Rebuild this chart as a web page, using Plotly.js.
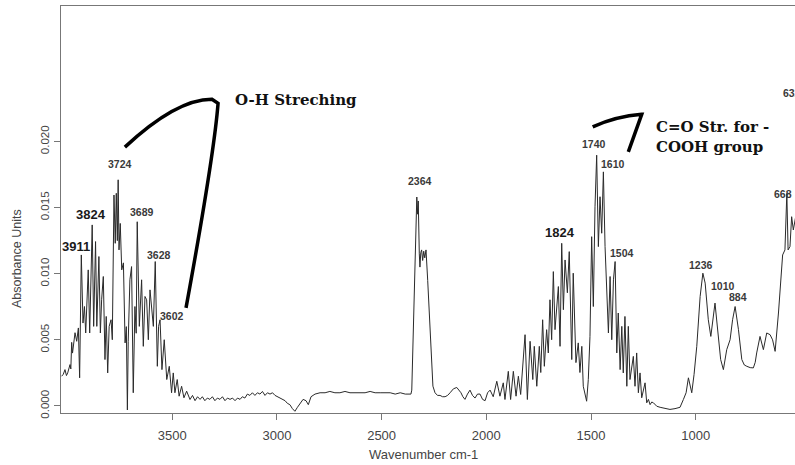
<!DOCTYPE html>
<html>
<head>
<meta charset="utf-8">
<script src="https://cdn.plot.ly/plotly-3.0.1.min.js"></script>
<style>html,body{margin:0;padding:0;background:#fff;}#chart{width:795px;height:465px;}</style>
</head>
<body>
<div id="chart"></div>
<script>
// Wavenumber (cm-1)
var wavenumber = [
4028,4020,4012,4005,3999,3993,3988,3984,3980,3976,3972,3964,3956,3948,3942,3934,3926,3919,3913,3905,
3901,3894,3888,3882,3875,3872,3866,3860,3850,3843,3837,3829,3821,3815,3808,3801,3792,3786,3778,3772,
3767,3762,3758,3754,3748,3741,3733,3725,3719,3714,3710,3702,3694,3686,3678,3672,3667,3657,3651,3646,
3638,3630,3622,3614,3606,3598,3590,3581,3571,3565,3558,3549,3538,3526,3514,3503,3495,3487,3476,3467,
3455,3444,3431,3415,3403,3391,3379,3367,3356,3344,3332,3320,3308,3296,3284,3272,3260,3248,3236,3224,
3212,3200,3188,3176,3165,3153,3141,3129,3117,3105,3093,3081,3069,3057,3045,3033,3021,3009,2997,2985,
2973,2961,2950,2938,2926,2914,2902,2890,2875,2861,2850,2837,2818,2794,2770,2747,2723,2699,2675,2651,
2627,2603,2579,2555,2531,2507,2483,2459,2435,2411,2387,2371,2360,2356,2345,2335,2332,2328,2325,2320,
2317,2313,2309,2304,2299,2294,2288,2280,2269,2260,2255,2245,2233,2221,2209,2197,2185,2173,2157,2141,
2131,2121,2112,2102,2090,2078,2066,2054,2042,2030,2018,2006,1994,1982,1967,1950,1935,1919,1911,1895,
1884,1871,1858,1847,1836,1825,1815,1804,1791,1778,1771,1759,1747,1740,1731,1723,1712,1704,1696,1688,
1680,1672,1656,1648,1640,1632,1624,1613,1604,1592,1585,1572,1561,1553,1544,1537,1529,1521,1513,1505,
1497,1489,1481,1473,1465,1457,1449,1441,1433,1425,1417,1409,1401,1393,1385,1377,1370,1361,1353,1346,
1338,1329,1322,1314,1306,1298,1290,1282,1274,1266,1258,1250,1242,1234,1226,1218,1210,1202,1194,1186,
1170,1147,1123,1099,1075,1059,1046,1035,1027,1019,1008,995,979,966,955,940,928,917,908,900,
892,881,868,852,836,824,812,796,780,768,756,740,725,716,709,693,677,661,645,633,
621,605,585,574,565,559,550,542,534,526,515
];
// Absorbance units
var absorbance = [
0.00225,0.0024,0.00275,0.0023,0.0025,0.0030,0.00313,0.0028,0.00481,0.0040,0.00451,0.00554,0.00489,0.0059,0.00213,0.01142,0.00627,0.00752,0.00552,0.00903,
0.01029,0.00552,0.00954,0.01369,0.00602,0.0078,0.01243,0.00602,0.0113,0.00552,0.00803,0.00979,0.00351,0.00677,0.0025,0.00602,0.00652,0.00501,0.01595,0.0123,
0.01608,0.0125,0.0171,0.0118,0.0138,0.01029,0.01082,0.00477,0.0060,-0.0003,0.00489,0.00954,0.01054,0.0010,0.00752,0.0055,0.01393,0.00602,0.00803,0.00954,
0.00451,0.00828,0.00803,0.00501,0.00878,0.00752,0.00602,0.01092,0.0030,0.00602,0.00652,0.00275,0.00501,0.0020,0.0030,0.0010,0.0025,0.0010,0.0020,0.00074,
0.00149,0.00062,0.00112,0.00049,0.0008,0.0004,0.0007,0.0005,0.0007,0.0004,0.0006,0.0005,0.0007,0.0004,0.0006,0.0005,0.0007,0.0004,0.0006,0.0005,
0.0006,0.0004,0.0006,0.0005,0.0007,0.0006,0.0009,0.0008,0.0010,0.0008,0.0010,0.0009,0.0011,0.0008,0.0010,0.0009,0.0010,0.0008,0.0007,0.0006,
0.0005,0.0004,0.0002,0.0001,-0.0002,-0.0004,-0.0001,0.0002,0.0005,0.0004,0.0001,0.0007,0.0009,0.0010,0.0010,0.0011,0.0010,0.0010,0.0011,0.0010,
0.0010,0.0010,0.0010,0.0011,0.0010,0.0010,0.0010,0.0010,0.0009,0.0010,0.0009,0.0009,0.0009,0.0012,0.0080,0.0150,0.0158,0.0145,0.0155,0.0115,
0.0105,0.0116,0.0118,0.0110,0.0117,0.0112,0.0118,0.0095,0.0060,0.0030,0.0015,0.0010,0.0008,0.0008,0.0007,0.0007,0.0008,0.0010,0.0013,0.0014,
0.0012,0.0010,0.0007,0.0005,0.0009,0.0012,0.0008,0.0006,0.0009,0.0009,0.0005,0.0004,0.0010,0.0012,0.0007,0.00187,0.00074,0.00175,0.00049,0.00262,
0.00049,0.00262,0.00074,0.00225,0.00087,0.0030,0.00539,0.00049,0.00489,0.0020,0.00451,0.00149,0.00451,0.00253,0.00652,0.0030,0.00577,0.00401,0.00803,0.00501,
0.01016,0.00577,0.00903,0.00451,0.0123,0.00728,0.01104,0.00856,0.01167,0.00351,0.01004,0.00328,0.00477,0.00253,0.00451,0.00149,0.0008,0.00036,0.0020,0.00526,
0.0128,0.00752,0.01506,0.01896,0.01205,0.01582,0.01306,0.0177,0.01205,0.00929,0.00552,0.00979,0.00501,0.00954,0.01092,0.00401,0.00703,0.00275,0.00602,0.0025,
0.00677,0.00149,0.00602,0.0020,0.0030,0.00375,0.00149,0.00401,0.0010,0.0025,0.00062,0.0012,0.00175,0.00024,0.0005,0.0001,0.0003,0.00024,0.0001,-0.00002,
-0.0001,-0.0002,-0.00026,-0.0002,-0.0001,0.00049,0.0010,0.00213,0.0016,0.0010,0.00238,0.00451,0.00828,0.01004,0.00929,0.00652,0.00526,0.00652,0.00778,0.0065,
0.00526,0.00351,0.00275,0.00426,0.00501,0.00652,0.00752,0.00577,0.00351,0.0031,0.0030,0.0029,0.00288,0.0033,0.00401,0.00526,0.00426,0.00552,0.00539,0.0050,
0.00413,0.00703,0.01142,0.0118,0.01608,0.0118,0.01205,0.01431,0.01331,0.01406,0.0150
];
// Peak labels written on the chart
var peakLabels = ["3911","3824","3724","3689","3628","3602","2364","1824","1740","1610","1504","1236","1010","884","668","632"];
var bigLabels = {"3911":1,"3824":1,"1824":1};
var peakLabelPos = [
[3960,0.01203],[3890,0.01444],[3749,0.01828],[3644,0.01467],[3561,0.01142],[3501,0.00682],
[2317,0.0170],[1648,0.01308],[1488,0.01979],[1395,0.01828],[1352,0.01157],[975,0.01067],
[870,0.00909],[798,0.00826],[581,0.01602],[593,0.02364]
];
var xTicks = [3500,3000,2500,2000,1500,1000];
var yTicks = [0,0.005,0.010,0.015,0.020];
var yTickText = ["0.000","0.005","0.010","0.015","0.020"];

var annotations = peakLabels.map(function(t,i){
  var big = bigLabels[t];
  return {x:peakLabelPos[i][0], y:peakLabelPos[i][1], xref:'x', yref:'y', text:'<b>'+t+'</b>',
    showarrow:false, xanchor: t==="632" ? 'left' : 'center', yanchor:'middle',
    font:{family:'Liberation Sans, Arial, sans-serif', size: big?13:10.5, color: big?'#1a1a1a':'#3a3a3a'}};
});
annotations.push({x:2909,y:0.02311,xref:'x',yref:'y',text:'<b>O-H Streching</b>',showarrow:false,
  xanchor:'center',yanchor:'middle',font:{family:'DejaVu Serif, serif',size:15,color:'#111'}});
annotations.push({x:1199,y:0.02036,xref:'x',yref:'y',text:'<b>C=O Str. for -</b><br><b>COOH group</b>',showarrow:false,
  xanchor:'left',yanchor:'middle',align:'left',font:{family:'DejaVu Serif, serif',size:15,color:'#111'}});
annotations.push({x:2302,y:-0.103,xref:'x',yref:'paper',text:'Wavenumber cm-1',showarrow:false,
  xanchor:'center',yanchor:'middle',font:{family:'Liberation Sans, Arial, sans-serif',size:13,color:'#444'}});
annotations.push({x:17,y:259,xref:'paper',yref:'paper',text:'Absorbance Units',showarrow:false,textangle:-90,
  xanchor:'center',yanchor:'middle',font:{family:'Liberation Sans, Arial, sans-serif',size:12.5,color:'#444'}});
// fix y-title position in paper coords
annotations[annotations.length-1].x = (17-61)/734;
annotations[annotations.length-1].y = (413-259)/407;

var shapes = [
 {type:'path', xref:'x', yref:'y', line:{color:'#000',width:3.5},
  path:'M3726,0.01957 Q3480,0.0232 3310,0.02319 L3281,0.02288 Q3300,0.0190 3434,0.00742'},
 {type:'path', xref:'x', yref:'y', line:{color:'#000',width:3.5},
  path:'M1492,0.0211 Q1380,0.0219 1258,0.02205 L1322,0.01921'}
];

var trace = {x:wavenumber, y:absorbance, type:'scatter', mode:'lines',
  line:{color:'#2a2a2a', width:1}, hoverinfo:'skip'};

var layout = {
  width:795, height:465,
  margin:{l:61, r:0, t:6, b:52},
  paper_bgcolor:'#fff', plot_bgcolor:'#fff',
  showlegend:false,
  font:{family:'Liberation Sans, Arial, sans-serif', color:'#444'},
  xaxis:{range:[4031,526], tickvals:xTicks, ticktext:xTicks.map(String), showgrid:false, zeroline:false,
    showline:true, linecolor:'#777', linewidth:1, mirror:true, ticks:'outside', ticklen:6, tickcolor:'#777',
    tickfont:{size:13,color:'#444'}, ticklabelstandoff:4},
  yaxis:{range:[-0.00053,0.03024], tickvals:yTicks, ticktext:yTickText, showgrid:false, zeroline:false,
    showline:true, linecolor:'#777', linewidth:1, ticks:'outside', ticklen:6, tickcolor:'#777',
    tickangle:-90, tickfont:{size:11.5,color:'#444'}},
  annotations:annotations,
  shapes:shapes
};
Plotly.newPlot('chart',[trace],layout,{staticPlot:true,displayModeBar:false});
</script>
</body>
</html>
